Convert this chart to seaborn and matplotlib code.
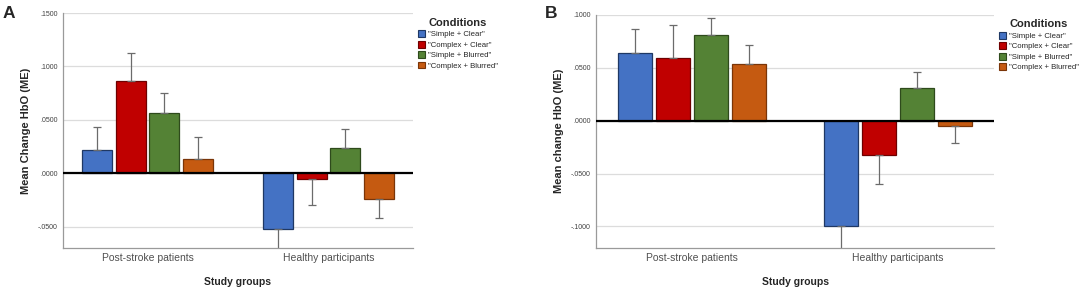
import pandas as pd
import seaborn as sns
import matplotlib.pyplot as plt
from matplotlib.ticker import FuncFormatter, FixedLocator


groups = ['Post-stroke patients', 'Healthy participants']
conditions = ['"Simple + Clear"', '"Complex + Clear"', '"Simple + Blurred"', '"Complex + Blurred"']
colors = ['#4472C4', '#C00000', '#548235', '#C55A11']
edges = ['#1F3864', '#6E0000', '#2E4A1C', '#7A3508']

# panel A: mean change HbO (post-stroke, healthy) per condition
meanA = {'"Simple + Clear"': [0.0215, -0.0520],
         '"Complex + Clear"': [0.0863, -0.0056],
         '"Simple + Blurred"': [0.0564, 0.0237],
         '"Complex + Blurred"': [0.0134, -0.0243]}
errA = {'"Simple + Clear"': [0.0215, 0.0190],
        '"Complex + Clear"': [0.0261, 0.0240],
        '"Simple + Blurred"': [0.0186, 0.0173],
        '"Complex + Blurred"': [0.0202, 0.0181]}

# panel B
meanB = {'"Simple + Clear"': [0.0638, -0.0994],
         '"Complex + Clear"': [0.0590, -0.0322],
         '"Simple + Blurred"': [0.0807, 0.0310],
         '"Complex + Blurred"': [0.0538, -0.0053]}
errB = {'"Simple + Clear"': [0.0225, 0.0220],
        '"Complex + Clear"': [0.0310, 0.0281],
        '"Simple + Blurred"': [0.0163, 0.0150],
        '"Complex + Blurred"': [0.0178, 0.0160]}


def makeDf(means):
    rows = []
    for c in conditions:
        for g, v in zip(groups, means[c]):
            rows.append({'group': g, 'condition': c, 'value': v})
    return pd.DataFrame(rows)


def fmtTick(v, pos):
    s = f'{v:.4f}'
    return s.replace('0.', '.', 1)


def drawPanel(ax, means, errs, ylim, ticks, ylabel):
    df = makeDf(means)
    sns.barplot(data=df, x='group', y='value', hue='condition', order=groups,
                hue_order=conditions, palette=colors, saturation=1, errorbar=None,
                width=0.74, gap=0.1, linewidth=0.9, ax=ax)
    for cont, c, ec in zip(ax.containers, conditions, edges):
        xs, ys, lo, hi = [], [], [], []
        for bar, e in zip(cont, errs[c]):
            bar.set_edgecolor(ec)
            h = bar.get_height()
            xs.append(bar.get_x() + bar.get_width() / 2)
            ys.append(h)
            lo.append(e if h < 0 else 0)
            hi.append(e if h >= 0 else 0)
        ax.errorbar(xs, ys, yerr=[lo, hi], fmt='none', ecolor='#6b6b6b',
                    elinewidth=0.9, capsize=3, capthick=0.9, zorder=1)
    ax.set_xlim(-0.467, 1.467)
    ax.set_ylim(*ylim)
    ax.yaxis.set_major_locator(FixedLocator(ticks))
    ax.yaxis.set_major_formatter(FuncFormatter(fmtTick))
    ax.yaxis.grid(True, color='#dcdcdc', lw=0.9)
    ax.set_axisbelow(True)
    ax.axhline(0, color='black', lw=1.6, zorder=3)
    for s in ['top', 'right']:
        ax.spines[s].set_visible(False)
    for s in ['left', 'bottom']:
        ax.spines[s].set_color('#9a9a9a')
        ax.spines[s].set_linewidth(0.9)
    ax.tick_params(axis='y', length=0, labelsize=5, labelcolor='#404040', pad=4)
    ax.tick_params(axis='x', length=0, labelsize=7.5, labelcolor='#505050', pad=4)
    ax.set_ylabel(ylabel, fontsize=8, fontweight='bold', labelpad=5)
    ax.set_xlabel('Study groups', fontsize=7.5, fontweight='bold', labelpad=10)
    leg = ax.legend(title='Conditions', loc='upper left', bbox_to_anchor=(1.0, 1.0),
                    frameon=False, fontsize=5.6, title_fontsize=8,
                    handlelength=0.9, handleheight=1.0, handletextpad=0.4,
                    labelspacing=0.3, borderaxespad=0.2)
    leg.get_title().set_fontweight('bold')
    for hd, ec in zip(leg.legend_handles, edges):
        hd.set_edgecolor(ec)
        hd.set_linewidth(0.8)


sns.set_style('white')
plt.rcParams['font.family'] = ['Liberation Sans', 'DejaVu Sans']

f = plt.figure(figsize=(10.84, 2.91), dpi=100)
axA = f.add_axes([0.0581, 0.148, 0.3229, 0.807])
axB = f.add_axes([0.5498, 0.149, 0.3672, 0.8005])

drawPanel(axA, meanA, errA, (-0.07, 0.15), [-0.05, 0.0, 0.05, 0.10, 0.15],
          'Mean Change HbO (ME)')
drawPanel(axB, meanB, errB, (-0.12, 0.10), [-0.10, -0.05, 0.0, 0.05, 0.10],
          'Mean change HbO (ME)')

f.text(3 / 1084, 1 - 6 / 291, 'A', fontsize=12.5, fontweight='bold', va='top', ha='left')
f.text(545 / 1084, 1 - 6 / 291, 'B', fontsize=12.5, fontweight='bold', va='top', ha='left')

f.savefig('out.png', dpi=100)
